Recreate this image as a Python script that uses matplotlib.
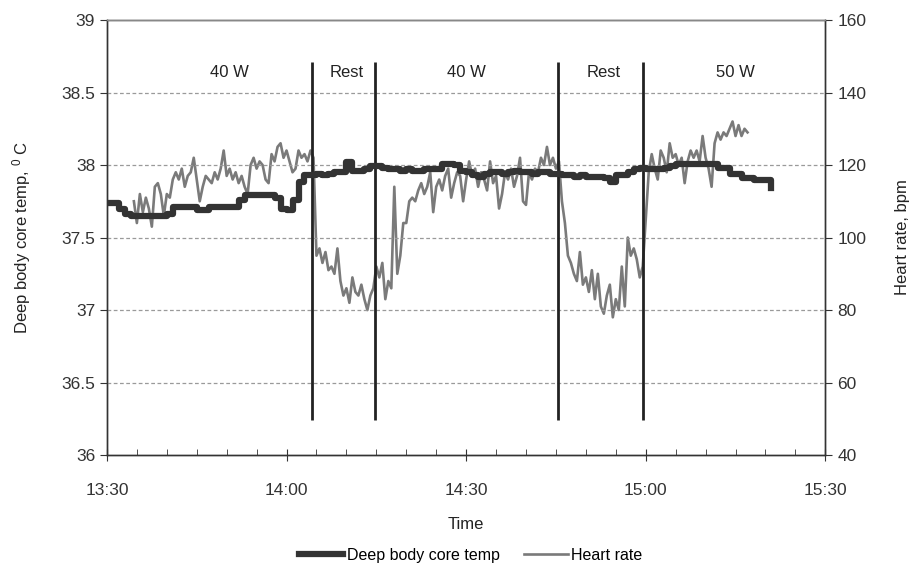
import matplotlib
matplotlib.use('Agg')
import matplotlib.pyplot as plt
import numpy as np
from matplotlib.ticker import MultipleLocator, FuncFormatter

plt.rcParams['font.family'] = ['Liberation Sans', 'DejaVu Sans']
plt.rcParams['mathtext.default'] = 'regular'

# minutes after 13:30
temp_start, temp_step = 0, 1.0
core_temp = [37.74, 37.74, 37.70, 37.66, 37.65, 37.65, 37.65, 37.65, 37.65, 37.65,
             37.66, 37.71, 37.71, 37.71, 37.71, 37.69, 37.69, 37.71, 37.71, 37.71,
             37.71, 37.71, 37.76, 37.79, 37.79, 37.79, 37.79, 37.79, 37.77, 37.70,
             37.69, 37.76, 37.88, 37.93, 37.93, 37.94, 37.93, 37.94, 37.95, 37.95,
             38.02, 37.96, 37.96, 37.97, 37.99, 37.99, 37.98, 37.97, 37.97, 37.96,
             37.97, 37.96, 37.96, 37.97, 37.97, 37.97, 38.01, 38.01, 38.00, 37.96,
             37.95, 37.93, 37.92, 37.94, 37.95, 37.95, 37.94, 37.95, 37.96, 37.95,
             37.95, 37.94, 37.95, 37.95, 37.94, 37.94, 37.93, 37.93, 37.92, 37.93,
             37.92, 37.92, 37.92, 37.91, 37.88, 37.93, 37.93, 37.95, 37.97, 37.98,
             37.97, 37.97, 37.97, 37.98, 37.99, 38.01, 38.01, 38.01, 38.01, 38.01,
             38.01, 38.01, 37.98, 37.98, 37.94, 37.94, 37.91, 37.91, 37.90, 37.90,
             37.90, 37.84]

hr_start, hr_step = 4.5, 0.5
heart_rate = [
    # 40 W
    110, 104, 112, 107, 111, 108, 103, 114, 115, 112,
    106, 112, 111, 116, 118, 116, 119, 114, 117, 118,
    122, 116, 110, 114, 117, 116, 115, 118, 116, 119,
    124, 117, 119, 116, 118, 115, 117, 114, 112, 120,
    122, 119, 121, 120, 116, 115, 123, 121, 125, 126,
    122, 124, 121, 118, 119, 124, 122, 123, 121, 124,
    # rest
    122, 95, 97, 93, 96, 91, 92, 90, 97, 88,
    84, 86, 82, 89, 85, 84, 87, 83, 80, 84,
    86, 92, 89, 93, 83, 88, 86, 114, 90, 95,
    # 40 W
    104, 104, 110, 111, 110, 113, 115, 112, 114, 118,
    107, 114, 116, 113, 117, 119, 111, 115, 118, 117,
    110, 116, 121, 117, 119, 114, 118, 116, 113, 121,
    115, 117, 108, 112, 118, 116, 119, 114, 117, 122,
    110, 109, 118, 116, 119, 118, 122, 120, 125, 120,
    122, 119,
    # rest
    121, 110, 104, 95, 93, 90, 88, 96, 87, 89,
    85, 91, 83, 90, 81, 79, 84, 87, 78, 83,
    80, 92, 81, 100, 95, 97, 94, 89, 92, 105,
    # 50 W
    118, 123, 119, 116, 124, 122, 118, 126, 122, 123,
    120, 122, 115, 121, 124, 122, 124, 121, 128, 122,
    119, 114, 126, 129, 127, 129, 128, 130, 132, 128,
    131, 128, 130, 129]

phase_bounds = [34.3, 44.8, 75.3, 89.5]
phase_names = ['40 W', 'Rest', '40 W', 'Rest', '50 W']
phase_label_x = [20.5, 40.0, 60.0, 83.0, 105.0]


def fmt_time(m, pos):
    h, mm = divmod(int(round(m)) + 13 * 60 + 30, 60)
    return '%d:%02d' % (h, mm)


def main():
    t_temp = temp_start + temp_step * np.arange(len(core_temp))
    t_hr = hr_start + hr_step * np.arange(len(heart_rate))

    fig = plt.figure(figsize=(9.14, 5.71), dpi=100)
    ax = fig.add_axes([0.117, 0.203, 0.786, 0.762])
    ax2 = ax.twinx()

    ax.set_xlim(0, 120)
    ax.set_ylim(36, 39)
    ax2.set_ylim(40, 160)

    ax.yaxis.set_major_locator(MultipleLocator(0.5))
    ax.yaxis.set_major_formatter(FuncFormatter(lambda v, p: ('%g' % v)))
    ax2.yaxis.set_major_locator(MultipleLocator(20))
    ax.xaxis.set_major_locator(MultipleLocator(30))
    ax.xaxis.set_minor_locator(MultipleLocator(5))
    ax.xaxis.set_major_formatter(FuncFormatter(fmt_time))

    for v in np.arange(36.5, 39, 0.5):
        ax.axhline(v, color='#9a9a9a', lw=0.9, ls=(0, (3, 2)), zorder=0)

    ax.vlines(phase_bounds, 36.24, 38.71, color='#222222', lw=2.0, zorder=3)
    for x, name in zip(phase_label_x, phase_names):
        ax.text(x, 38.64, name, ha='center', va='center', fontsize=12, color='#222222')

    hr_line, = ax2.plot(t_hr, heart_rate, color='#7a7a7a', lw=1.9,
                        label='Heart rate', zorder=2)
    temp_line, = ax.plot(t_temp, core_temp, color='#333333', lw=4.5, drawstyle='steps-post',
                         label='Deep body core temp', zorder=4)
    ax.set_zorder(ax2.get_zorder() + 1)
    ax.patch.set_visible(False)

    for a in (ax, ax2):
        for s in a.spines.values():
            s.set_color('#333333')
            s.set_linewidth(1.0)
    ax.spines['top'].set_color('#888888')

    ax.tick_params(axis='y', direction='out', length=5, labelsize=12.5, colors='#333333')
    ax2.tick_params(axis='y', direction='out', length=5, labelsize=12.5, colors='#333333')
    ax.tick_params(axis='x', which='major', direction='inout', length=8, labelsize=12.5,
                   colors='#333333', pad=16)
    ax.tick_params(axis='x', which='minor', direction='in', length=4, colors='#333333')

    ax.set_xlabel('Time', fontsize=12, color='#222222', labelpad=14)
    ax.set_ylabel('Deep body core temp, $^{0}$ C', fontsize=12, color='#222222', labelpad=20)
    ax2.set_ylabel('Heart rate, bpm', fontsize=12, color='#222222', labelpad=21)

    fig.legend([temp_line, hr_line], ['Deep body core temp', 'Heart rate'],
               loc='center', bbox_to_anchor=(0.515, 0.028), ncol=2, frameon=False,
               fontsize=11.5, handlelength=2.8, handletextpad=0.2, columnspacing=1.5)

    fig.savefig('out.png', dpi=100)


if __name__ == '__main__':
    main()
